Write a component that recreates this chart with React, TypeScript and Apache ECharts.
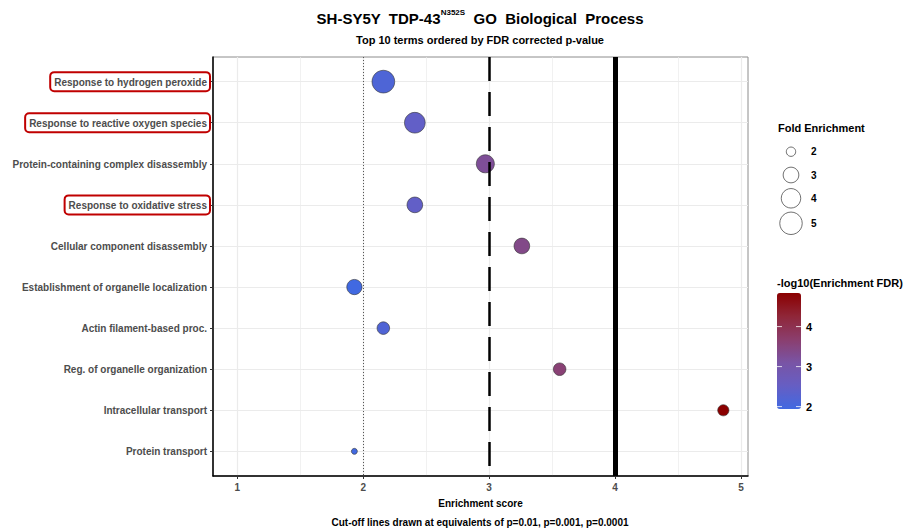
import React, { useEffect, useRef } from "react";
import * as echarts from "echarts";

const categories = [
  "Response to hydrogen peroxide",
  "Response to reactive oxygen species",
  "Protein-containing complex disassembly",
  "Response to oxidative stress",
  "Cellular component disassembly",
  "Establishment of organelle localization",
  "Actin filament-based proc.",
  "Reg. of organelle organization",
  "Intracellular transport",
  "Protein transport",
];
const enrichmentScore = [2.16, 2.41, 2.97, 2.41, 3.26, 1.93, 2.16, 3.56, 4.86, 1.93];
const negLog10FDR = [2.15, 2.45, 3.25, 2.45, 3.4, 1.94, 2.18, 3.6, 4.84, 1.96];
const foldEnrichment = [5.1, 4.4, 3.6, 3.0, 3.0, 2.9, 2.4, 2.4, 2.2, 1.81];
const highlighted = [
  "Response to hydrogen peroxide",
  "Response to reactive oxygen species",
  "Response to oxidative stress",
];
const xTicks = [1, 2, 3, 4, 5];
const xGridValues = [1, 1.5, 2, 2.5, 3, 3.5, 4, 4.5, 5];
const cutoffs = [2, 3, 4];
const foldBreaks = [2, 3, 4, 5];
const fdrBreaks = [2, 3, 4];
const fdrRange = [1.94, 4.84];

const FONT = '"Liberation Sans", Arial, Helvetica, sans-serif';
const foldDomain = [1.8, 5.2];
const sizeRange = [5, 23];
const sizeScale = (v: number) =>
  sizeRange[0] +
  (sizeRange[1] - sizeRange[0]) *
    Math.sqrt(Math.max(0, (v - foldDomain[0]) / (foldDomain[1] - foldDomain[0])));

const colorStops = ["#4169E1", "#665EC3", "#7954A5", "#8B3E6D", "#8F2638", "#8B0000"];

export default function App() {
  const ref = useRef<HTMLDivElement>(null);
  useEffect(() => {
    if (!ref.current) return;
    const chart = echarts.init(ref.current, undefined, { renderer: "svg" });

    const gridLeft = 213, gridTop = 57, gridW = 535, gridH = 419;
    const cbLeft = 777, cbTop = 293, cbW = 24, cbH = 116;
    const cbY = (v: number) => cbTop + ((fdrRange[1] - v) / (fdrRange[1] - fdrRange[0])) * cbH;

    const legendCenters = [151.7, 175, 198.3, 223.3];
    const graphics: any[] = [];
    const txt = (x: number, y: number, text: string, font: string, align = "left") => ({
      type: "text",
      x, y,
      style: { text, font, fill: "#000", align, verticalAlign: "middle", textAlign: align, textVerticalAlign: "middle" },
    });
    graphics.push(txt(480, 522, "Cut-off lines drawn at equivalents of p=0.01, p=0.001, p=0.0001", `bold 10px ${FONT}`, "center"));
    graphics.push(txt(778, 128, "Fold Enrichment", `bold 11px ${FONT}`));
    foldBreaks.forEach((b, i) => {
      graphics.push({
        type: "circle",
        shape: { cx: 791, cy: legendCenters[i], r: sizeScale(b) / 2 },
        style: { fill: "#fff", stroke: "#333", lineWidth: 0.7 },
      });
      graphics.push(txt(811, legendCenters[i], String(b), `bold 10px ${FONT}`));
    });
    graphics.push(txt(777, 283, "-log10(Enrichment FDR)", `bold 11px ${FONT}`));
    fdrBreaks.forEach((b) => {
      const y = cbY(b);
      graphics.push({ type: "line", shape: { x1: cbLeft, y1: y, x2: cbLeft + 5, y2: y }, style: { stroke: "#fff", lineWidth: 0.8 }, z: 100 });
      graphics.push({ type: "line", shape: { x1: cbLeft + cbW - 5, y1: y, x2: cbLeft + cbW, y2: y }, style: { stroke: "#fff", lineWidth: 0.8 }, z: 100 });
      graphics.push(txt(806, y, String(b), `bold 11px ${FONT}`));
    });

    const labelStyle = { color: "#4d4d4d", fontWeight: "bold", fontSize: 10, fontFamily: FONT };

    const option: any = {
      animation: false,
      backgroundColor: "#fff",
      title: [
        {
          text: "{a|SH-SY5Y  TDP-43}{sup|N352S}{a|  GO  Biological  Process}",
          left: 480, top: 8, padding: 0, textAlign: "center",
          textStyle: {
            rich: {
              a: { fontSize: 15, fontWeight: "bold", color: "#000", fontFamily: FONT, lineHeight: 20 },
              sup: { fontSize: 8, fontWeight: "bold", color: "#000", fontFamily: FONT, verticalAlign: "top", lineHeight: 20, padding: [0, 0, 8, 0] },
            },
          },
        },
        {
          text: "Top 10 terms ordered by FDR corrected p-value",
          left: 480, top: 34, padding: 0, textAlign: "center",
          textStyle: { fontSize: 11, fontWeight: "bold", color: "#000", fontFamily: FONT },
        },
      ],
      grid: { left: gridLeft, top: gridTop, width: gridW, height: gridH, show: true, borderColor: "#8c8c8c", borderWidth: 1, backgroundColor: "#fff" },
      xAxis: {
        type: "value",
        min: 0.807,
        max: 5.056,
        splitLine: { show: false },
        axisLine: { show: true, onZero: false, lineStyle: { color: "#000", width: 1.5 } },
        axisTick: { show: true, customValues: xTicks, length: 3, lineStyle: { color: "#333" } },
        axisLabel: { customValues: xTicks, margin: 6, ...labelStyle, fontSize: 10, formatter: (v: number) => String(v) },
        name: "Enrichment score",
        nameLocation: "middle",
        nameGap: 22,
        nameTextStyle: { fontWeight: "bold", fontSize: 10, color: "#000", fontFamily: FONT },
      },
      yAxis: {
        type: "value",
        min: -0.6,
        max: 9.6,
        inverse: true,
        splitLine: { show: false },
        axisLine: { show: true, onZero: false, lineStyle: { color: "#000", width: 1.5 } },
        axisTick: { show: true, customValues: categories.map((_, i) => i), length: 3, lineStyle: { color: "#333" } },
        axisLabel: {
          customValues: categories.map((_, i) => i),
          margin: 3,
          formatter: (v: number) => {
            const name = categories[Math.round(v)];
            return highlighted.includes(name) ? `{box|${name}}` : `{n|${name}}`;
          },
          rich: {
            box: { ...labelStyle, borderColor: "#c00000", borderWidth: 2, borderRadius: 4, padding: [5, 3, 4, 4] },
            n: { ...labelStyle, padding: [5, 3, 4, 4] },
          },
        },
      },
      visualMap: {
        type: "continuous",
        min: fdrRange[0],
        max: fdrRange[1],
        dimension: 2,
        seriesIndex: 1,
        left: cbLeft,
        top: cbTop,
        itemWidth: cbW,
        itemHeight: cbH,
        padding: 0,
        calculable: false,
        hoverLink: false,
        text: null,
        showLabel: false,
        inRange: { color: colorStops },
      },
      graphic: graphics,
      series: [
        {
          type: "scatter",
          data: [],
          silent: true,
          z: 1,
          markLine: {
            silent: true,
            z: 0,
            symbol: ["none", "none"],
            label: { show: false },
            animation: false,
            data: [
              ...xGridValues.map((v) => ({ xAxis: v, lineStyle: { color: "#ebebeb", width: Number.isInteger(v) ? 1.2 : 0.7, type: "solid" } })),
              ...categories.map((_, i) => ({ yAxis: i, lineStyle: { color: "#ebebeb", width: 1.2, type: "solid" } })),
            ],
          },
        },
        {
          type: "scatter",
          z: 3,
          data: categories.map((c, i) => [enrichmentScore[i], i, negLog10FDR[i], foldEnrichment[i], c]),
          symbolSize: (d: number[]) => sizeScale(d[3]),
          itemStyle: { borderColor: "#333", borderWidth: 0.6, opacity: 1 },
        },
        {
          type: "scatter",
          data: [],
          silent: true,
          z: 4,
          markLine: {
            silent: true,
            z: 10,
            symbol: ["none", "none"],
            label: { show: false },
            animation: false,
            data: [
              { xAxis: cutoffs[0], lineStyle: { color: "#555", width: 1, type: [1, 2] } },
              { xAxis: cutoffs[1], lineStyle: { color: "#000", width: 2.5, type: [24, 11] } },
              { xAxis: cutoffs[2], lineStyle: { color: "#000", width: 5, type: "solid" } },
            ],
          },
        },
      ],
    };
    chart.setOption(option);
    return () => chart.dispose();
  }, []);
  return <div ref={ref} style={{ position: "fixed", left: 0, top: 0, width: 913, height: 530 }} />;
}
